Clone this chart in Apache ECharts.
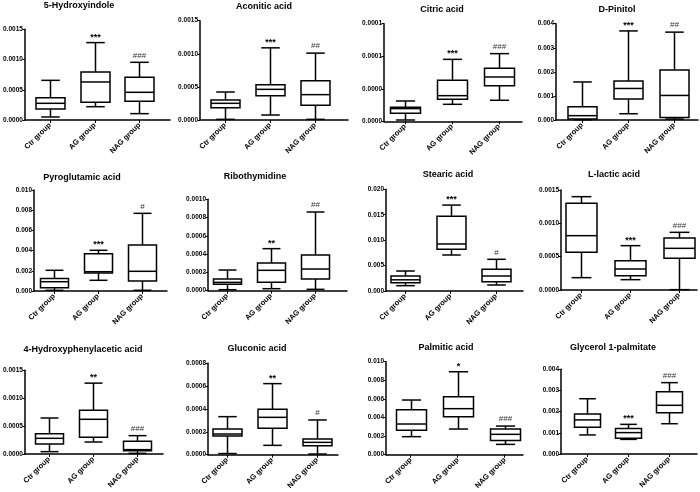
<!DOCTYPE html>
<html><head><meta charset="utf-8">
<script src="https://cdn.jsdelivr.net/npm/echarts@6/dist/echarts.min.js"></script>
<style>html,body{margin:0;padding:0;background:#fff}#c{width:700px;height:492px}</style>
</head><body><div id="c"></div>
<script>
// ---------- data ----------
const groups = ['Ctr group', 'AG group', 'NAG group'];
const titles = ['5-Hydroxyindole', 'Aconitic acid', 'Citric acid', 'D-Pinitol',
  'Pyroglutamic acid', 'Ribothymidine', 'Stearic acid', 'L-lactic acid',
  '4-Hydroxyphenylacetic acid', 'Gluconic acid', 'Palmitic acid', 'Glycerol 1-palmitate'];

// each group: [min, Q1, median, Q3, max]
const hydroxyindole = [[0.00005, 0.000182, 0.000276, 0.000369, 0.000656], [0.00022, 0.000292, 0.000629, 0.000794, 0.00128], [0.000105, 0.000309, 0.000458, 0.000706, 0.000954]];
const aconitic = [[0.00001, 0.000186, 0.000252, 0.000302, 0.000423], [0.0000755, 0.000367, 0.000463, 0.000534, 0.00109], [0.00001, 0.000221, 0.000383, 0.000594, 0.00101]];
const citric = [[0.000002, 0.0000123, 0.0000195, 0.0000215, 0.0000312], [0.0000261, 0.0000338, 0.0000394, 0.000063, 0.0000952], [0.0000323, 0.0000548, 0.0000681, 0.0000814, 0.000104]];
const pinitol = [[0.00001, 0.00004, 0.00018, 0.000554, 0.00158], [0.00026, 0.00087, 0.00131, 0.00162, 0.0037], [0.00004, 0.0001, 0.00102, 0.00208, 0.00365]];
const pyroglutamic = [[0.00007, 0.00033, 0.00092, 0.00125, 0.00205], [0.00106, 0.00178, 0.00191, 0.0037, 0.00403], [0.00007, 0.00099, 0.00195, 0.00455, 0.00769]];
const ribothymidine = [[0.000011, 0.0000693, 0.0000912, 0.000128, 0.000226], [0.000022, 0.0000912, 0.000223, 0.000303, 0.00046], [0.000015, 0.000128, 0.000237, 0.00039, 0.000861]];
const stearic = [[0.00105, 0.0016, 0.0022, 0.00295, 0.00393], [0.00708, 0.0082, 0.00925, 0.0147, 0.0169], [0.00118, 0.00184, 0.00295, 0.00426, 0.00623]];
const lactic = [[0.000185, 0.000565, 0.000815, 0.0013, 0.0014], [0.000155, 0.000215, 0.000315, 0.00044, 0.000665], [0.000005, 0.000475, 0.000625, 0.00078, 0.000865]];
const hydroxyphenylacetic = [[0.000042, 0.000179, 0.000281, 0.000365, 0.000645], [0.000215, 0.000299, 0.000622, 0.000783, 0.00127], [0.000012, 0.00006, 0.000078, 0.000227, 0.000329]];
const gluconic = [[0.00001, 0.000164, 0.000181, 0.000225, 0.000333], [0.0000818, 0.000231, 0.000327, 0.000397, 0.000622], [0.000006, 0.0000788, 0.000108, 0.000137, 0.000304]];
const palmitic = [[0.00194, 0.00262, 0.0033, 0.00484, 0.00588], [0.00276, 0.00409, 0.00495, 0.00624, 0.00892], [0.00111, 0.00154, 0.00219, 0.00276, 0.00308]];
const glycerolPalmitate = [[0.0009, 0.00126, 0.00161, 0.00189, 0.00261], [0.00069, 0.00074, 0.00101, 0.00121, 0.0014], [0.00143, 0.00195, 0.0023, 0.00294, 0.00337]];

const boxes = [hydroxyindole, aconitic, citric, pinitol, pyroglutamic, ribothymidine,
  stearic, lactic, hydroxyphenylacetic, gluconic, palmitic, glycerolPalmitate];

const sigMarks = [
  ['', '***', '###'], ['', '***', '##'], ['', '***', '###'], ['', '***', '##'],
  ['', '***', '#'], ['', '**', '##'], ['', '***', '#'], ['', '***', '###'],
  ['', '**', '###'], ['', '**', '#'], ['', '*', '###'], ['', '***', '###']];

const yMax = [0.0015, 0.0015, 0.00015, 0.004, 0.010, 0.0010, 0.020, 0.0015, 0.0015, 0.0008, 0.010, 0.004];
const yInterval = [0.0005, 0.0005, 0.00005, 0.001, 0.002, 0.0002, 0.005, 0.0005, 0.0005, 0.0002, 0.002, 0.001];
const yTickLabels = [
  ['0.0000', '0.0005', '0.0010', '0.0015'],
  ['0.0000', '0.0005', '0.0010', '0.0015'],
  ['0.0000', '0.0000', '0.0001', '0.0001'],
  ['0.000', '0.001', '0.002', '0.003', '0.004'],
  ['0.000', '0.002', '0.004', '0.006', '0.008', '0.010'],
  ['0.0000', '0.0002', '0.0004', '0.0006', '0.0008', '0.0010'],
  ['0.000', '0.005', '0.010', '0.015', '0.020'],
  ['0.0000', '0.0005', '0.0010', '0.0015'],
  ['0.0000', '0.0005', '0.0010', '0.0015'],
  ['0.0000', '0.0002', '0.0004', '0.0006', '0.0008'],
  ['0.000', '0.002', '0.004', '0.006', '0.008', '0.010'],
  ['0.000', '0.001', '0.002', '0.003', '0.004']];

// ---------- layout (pixels): [axisLeft, top, bottom, right, firstCenter, spacing, titleX, titleTop]
const layout = [
  [24, 29.3, 120, 170, 49.3, 45, 79, 1],
  [200, 20.7, 120, 348, 225, 45, 264, 2],
  [384, 23.7, 121.3, 522, 405, 47, 442, 5],
  [556, 23.7, 120, 698, 582, 46, 617, 5],
  [34, 190, 291, 167, 54, 44, 82, 173],
  [208, 199.3, 290.7, 347, 227, 44, 255, 172],
  [386, 189.3, 291, 523, 405, 45.5, 448, 170],
  [561, 190, 290, 697, 581, 49, 614, 170],
  [24, 370.3, 454, 163, 48.3, 44.5, 83, 345],
  [208, 363.3, 454.7, 338, 227, 45, 257, 344],
  [386, 361.7, 454.7, 523, 410.7, 47, 446, 343],
  [561, 369.3, 454, 697, 587, 41, 613, 343]];

const FONT = 'Liberation Sans, Arial, sans-serif';
const LW = 1.5;

function makeRender(boxW, sigs) {
  return function (params, api) {
    const x = api.value(0);
    const p = [1, 2, 3, 4, 5].map(i => api.coord([x, api.value(i)]));
    const cx = Math.round(p[0][0]) + 0.5;
    const hw = boxW / 2, cw = boxW * 0.32;
    const ls = { stroke: '#000', lineWidth: LW, fill: null };
    const ch = [
      { type: 'line', shape: { x1: cx, y1: p[0][1], x2: cx, y2: p[1][1] }, style: ls },
      { type: 'line', shape: { x1: cx, y1: p[3][1], x2: cx, y2: p[4][1] }, style: ls },
      { type: 'line', shape: { x1: cx - cw, y1: p[0][1], x2: cx + cw, y2: p[0][1] }, style: ls },
      { type: 'line', shape: { x1: cx - cw, y1: p[4][1], x2: cx + cw, y2: p[4][1] }, style: ls },
      { type: 'rect', shape: { x: cx - hw, y: p[3][1], width: boxW, height: p[1][1] - p[3][1] }, style: { stroke: '#000', lineWidth: LW, fill: '#fff' } },
      { type: 'line', shape: { x1: cx - hw, y1: p[2][1], x2: cx + hw, y2: p[2][1] }, style: ls }
    ];
    const s = sigs[params.dataIndex];
    if (s) {
      const star = s.indexOf('*') >= 0;
      ch.push({ type: 'text', style: { text: s, x: cx, y: p[4][1] - (star ? 1 : 3), align: 'center', verticalAlign: 'bottom',
        fill: star ? '#000' : '#333', font: (star ? 'bold 9px ' : '8px ') + FONT } });
    }
    return { type: 'group', children: ch };
  };
}

const option = { animation: false, backgroundColor: '#fff', title: [], grid: [], xAxis: [], yAxis: [], series: [] };

layout.forEach((L, i) => {
  const [left, top, bottom, right, c1, s, tx, ty] = L;
  option.title.push({ text: titles[i], left: tx, top: ty, textAlign: 'center', padding: 0,
    textStyle: { fontSize: 9, fontWeight: 'bold', color: '#000', fontFamily: FONT } });
  option.grid.push({ left: left, top: top, width: right - left, height: bottom - top });
  option.xAxis.push({
    type: 'value', gridIndex: i,
    min: 1 - (c1 - left) / s, max: 1 + (right - c1) / s,
    axisLine: { onZero: false, lineStyle: { color: '#000', width: LW } },
    axisTick: { show: true, customValues: [1, 2, 3], length: 3, lineStyle: { color: '#000', width: 1 } },
    axisLabel: { customValues: [1, 2, 3], rotate: 45, fontSize: 7.5, fontWeight: 'bold', color: '#000', fontFamily: FONT, margin: 4,
      formatter: v => groups[Math.round(v) - 1] || '' },
    splitLine: { show: false }
  });
  const labels = yTickLabels[i];
  option.yAxis.push({
    type: 'value', gridIndex: i, min: 0, max: yMax[i], interval: yInterval[i],
    axisLine: { show: true, onZero: false, lineStyle: { color: '#000', width: LW } },
    axisTick: { show: true, length: 2.5, lineStyle: { color: '#000', width: 1 } },
    axisLabel: { fontSize: 6.5, fontWeight: 'bold', color: '#000', fontFamily: FONT, margin: 2,
      formatter: (v, idx) => labels[idx] !== undefined ? labels[idx] : '' },
    splitLine: { show: false }
  });
  const boxW = Math.round(s * 0.64);
  option.series.push({
    type: 'custom', xAxisIndex: i, yAxisIndex: i,
    renderItem: makeRender(boxW, sigMarks[i]),
    encode: { x: 0, y: [1, 2, 3, 4, 5] },
    data: boxes[i].map((b, k) => [k + 1].concat(b)),
    clip: false
  });
});

const chart = echarts.init(document.getElementById('c'), null, { renderer: 'canvas' });
chart.setOption(option);
</script>
</body></html>
